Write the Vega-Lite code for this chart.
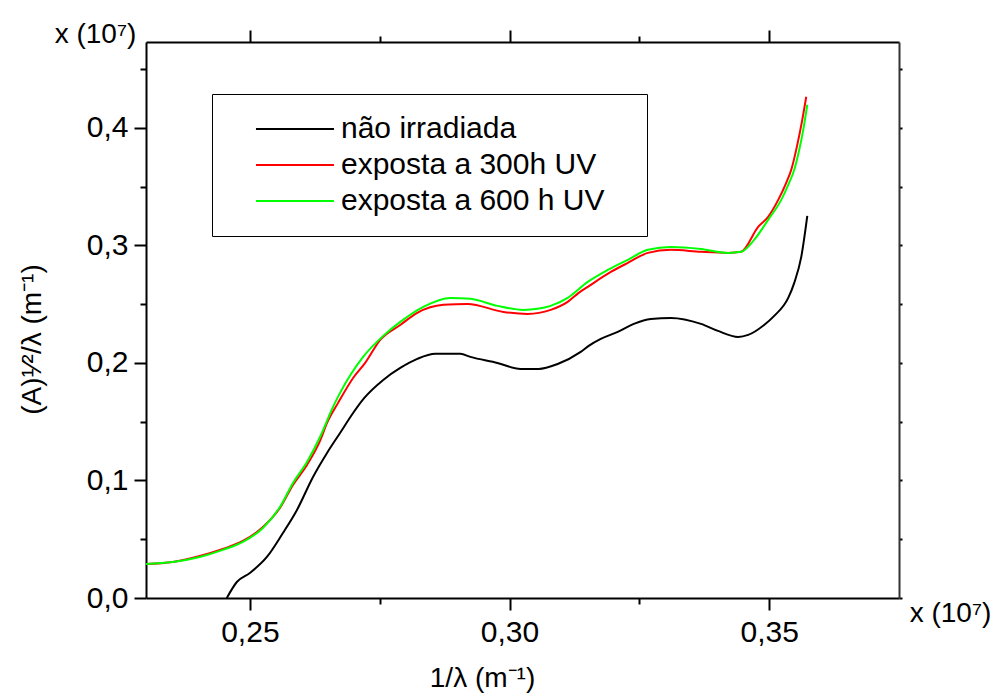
{
  "$schema": "https://vega.github.io/schema/vega-lite/v6.json",
  "autosize": {"type": "none"},
  "padding": {"left": 146, "top": 42, "right": 96, "bottom": 98},
  "width": 753,
  "height": 556,
  "background": "white",
  "data": {"values": [
    {"s": "não irradiada", "x": 0.24556, "y": 0.0},
    {"s": "não irradiada", "x": 0.24749, "y": 0.0136},
    {"s": "não irradiada", "x": 0.25, "y": 0.0213},
    {"s": "não irradiada", "x": 0.25328, "y": 0.0349},
    {"s": "não irradiada", "x": 0.25637, "y": 0.0553},
    {"s": "não irradiada", "x": 0.25907, "y": 0.0749},
    {"s": "não irradiada", "x": 0.26216, "y": 0.103},
    {"s": "não irradiada", "x": 0.26486, "y": 0.1234},
    {"s": "não irradiada", "x": 0.26737, "y": 0.1404},
    {"s": "não irradiada", "x": 0.26988, "y": 0.1574},
    {"s": "não irradiada", "x": 0.27200, "y": 0.1700},
    {"s": "não irradiada", "x": 0.27568, "y": 0.1855},
    {"s": "não irradiada", "x": 0.27896, "y": 0.1957},
    {"s": "não irradiada", "x": 0.28224, "y": 0.2034},
    {"s": "não irradiada", "x": 0.28571, "y": 0.2077},
    {"s": "não irradiada", "x": 0.29054, "y": 0.2077},
    {"s": "não irradiada", "x": 0.29247, "y": 0.2051},
    {"s": "não irradiada", "x": 0.29768, "y": 0.2},
    {"s": "não irradiada", "x": 0.30212, "y": 0.1949},
    {"s": "não irradiada", "x": 0.3056, "y": 0.1949},
    {"s": "não irradiada", "x": 0.30927, "y": 0.1991},
    {"s": "não irradiada", "x": 0.31371, "y": 0.2094},
    {"s": "não irradiada", "x": 0.31525, "y": 0.2145},
    {"s": "não irradiada", "x": 0.31757, "y": 0.2204},
    {"s": "não irradiada", "x": 0.32085, "y": 0.2264},
    {"s": "não irradiada", "x": 0.32394, "y": 0.2332},
    {"s": "não irradiada", "x": 0.32722, "y": 0.2374},
    {"s": "não irradiada", "x": 0.33108, "y": 0.2383},
    {"s": "não irradiada", "x": 0.33687, "y": 0.2332},
    {"s": "não irradiada", "x": 0.34015, "y": 0.2272},
    {"s": "não irradiada", "x": 0.34402, "y": 0.2221},
    {"s": "não irradiada", "x": 0.34595, "y": 0.2238},
    {"s": "não irradiada", "x": 0.34903, "y": 0.2323},
    {"s": "não irradiada", "x": 0.35097, "y": 0.24},
    {"s": "não irradiada", "x": 0.35367, "y": 0.2553},
    {"s": "não irradiada", "x": 0.35483, "y": 0.2681},
    {"s": "não irradiada", "x": 0.35618, "y": 0.2902},
    {"s": "não irradiada", "x": 0.35734, "y": 0.3251},
    {"s": "exposta a 300h UV", "x": 0.23, "y": 0.0289},
    {"s": "exposta a 300h UV", "x": 0.23514, "y": 0.0306},
    {"s": "exposta a 300h UV", "x": 0.24035, "y": 0.0357},
    {"s": "exposta a 300h UV", "x": 0.24479, "y": 0.0417},
    {"s": "exposta a 300h UV", "x": 0.24865, "y": 0.0485},
    {"s": "exposta a 300h UV", "x": 0.25251, "y": 0.0604},
    {"s": "exposta a 300h UV", "x": 0.25579, "y": 0.0766},
    {"s": "exposta a 300h UV", "x": 0.2583, "y": 0.0962},
    {"s": "exposta a 300h UV", "x": 0.261, "y": 0.1132},
    {"s": "exposta a 300h UV", "x": 0.26351, "y": 0.1336},
    {"s": "exposta a 300h UV", "x": 0.26486, "y": 0.1489},
    {"s": "exposta a 300h UV", "x": 0.26699, "y": 0.166},
    {"s": "exposta a 300h UV", "x": 0.26988, "y": 0.1872},
    {"s": "exposta a 300h UV", "x": 0.2722, "y": 0.2},
    {"s": "exposta a 300h UV", "x": 0.2751, "y": 0.2196},
    {"s": "exposta a 300h UV", "x": 0.27896, "y": 0.2323},
    {"s": "exposta a 300h UV", "x": 0.28224, "y": 0.2426},
    {"s": "exposta a 300h UV", "x": 0.28726, "y": 0.2494},
    {"s": "exposta a 300h UV", "x": 0.2919, "y": 0.2502},
    {"s": "exposta a 300h UV", "x": 0.29884, "y": 0.2434},
    {"s": "exposta a 300h UV", "x": 0.30347, "y": 0.2417},
    {"s": "exposta a 300h UV", "x": 0.30792, "y": 0.2451},
    {"s": "exposta a 300h UV", "x": 0.3112, "y": 0.2519},
    {"s": "exposta a 300h UV", "x": 0.31332, "y": 0.2596},
    {"s": "exposta a 300h UV", "x": 0.31506, "y": 0.2647},
    {"s": "exposta a 300h UV", "x": 0.3195, "y": 0.2774},
    {"s": "exposta a 300h UV", "x": 0.32278, "y": 0.2851},
    {"s": "exposta a 300h UV", "x": 0.32664, "y": 0.2936},
    {"s": "exposta a 300h UV", "x": 0.33108, "y": 0.2962},
    {"s": "exposta a 300h UV", "x": 0.33687, "y": 0.2945},
    {"s": "exposta a 300h UV", "x": 0.34208, "y": 0.2936},
    {"s": "exposta a 300h UV", "x": 0.34459, "y": 0.2945},
    {"s": "exposta a 300h UV", "x": 0.34788, "y": 0.3157},
    {"s": "exposta a 300h UV", "x": 0.3498, "y": 0.3243},
    {"s": "exposta a 300h UV", "x": 0.35174, "y": 0.3387},
    {"s": "exposta a 300h UV", "x": 0.35328, "y": 0.3532},
    {"s": "exposta a 300h UV", "x": 0.35425, "y": 0.3643},
    {"s": "exposta a 300h UV", "x": 0.35541, "y": 0.3855},
    {"s": "exposta a 300h UV", "x": 0.35637, "y": 0.4068},
    {"s": "exposta a 300h UV", "x": 0.35714, "y": 0.4264},
    {"s": "exposta a 600 h UV", "x": 0.23, "y": 0.0289},
    {"s": "exposta a 600 h UV", "x": 0.23514, "y": 0.0306},
    {"s": "exposta a 600 h UV", "x": 0.24035, "y": 0.0349},
    {"s": "exposta a 600 h UV", "x": 0.24479, "y": 0.0409},
    {"s": "exposta a 600 h UV", "x": 0.24865, "y": 0.0477},
    {"s": "exposta a 600 h UV", "x": 0.25251, "y": 0.0596},
    {"s": "exposta a 600 h UV", "x": 0.25579, "y": 0.0774},
    {"s": "exposta a 600 h UV", "x": 0.2583, "y": 0.0979},
    {"s": "exposta a 600 h UV", "x": 0.261, "y": 0.1157},
    {"s": "exposta a 600 h UV", "x": 0.26351, "y": 0.137},
    {"s": "exposta a 600 h UV", "x": 0.26602, "y": 0.1626},
    {"s": "exposta a 600 h UV", "x": 0.26737, "y": 0.1745},
    {"s": "exposta a 600 h UV", "x": 0.27181, "y": 0.2051},
    {"s": "exposta a 600 h UV", "x": 0.27568, "y": 0.223},
    {"s": "exposta a 600 h UV", "x": 0.27896, "y": 0.2349},
    {"s": "exposta a 600 h UV", "x": 0.2834, "y": 0.2477},
    {"s": "exposta a 600 h UV", "x": 0.28861, "y": 0.2553},
    {"s": "exposta a 600 h UV", "x": 0.29247, "y": 0.2545},
    {"s": "exposta a 600 h UV", "x": 0.29768, "y": 0.2485},
    {"s": "exposta a 600 h UV", "x": 0.3027, "y": 0.2451},
    {"s": "exposta a 600 h UV", "x": 0.3054, "y": 0.246},
    {"s": "exposta a 600 h UV", "x": 0.30792, "y": 0.2485},
    {"s": "exposta a 600 h UV", "x": 0.3112, "y": 0.2553},
    {"s": "exposta a 600 h UV", "x": 0.31506, "y": 0.2689},
    {"s": "exposta a 600 h UV", "x": 0.31892, "y": 0.2791},
    {"s": "exposta a 600 h UV", "x": 0.32278, "y": 0.2877},
    {"s": "exposta a 600 h UV", "x": 0.32664, "y": 0.2962},
    {"s": "exposta a 600 h UV", "x": 0.33108, "y": 0.2987},
    {"s": "exposta a 600 h UV", "x": 0.33687, "y": 0.297},
    {"s": "exposta a 600 h UV", "x": 0.34208, "y": 0.2936},
    {"s": "exposta a 600 h UV", "x": 0.34459, "y": 0.2945},
    {"s": "exposta a 600 h UV", "x": 0.3471, "y": 0.3047},
    {"s": "exposta a 600 h UV", "x": 0.3498, "y": 0.3217},
    {"s": "exposta a 600 h UV", "x": 0.35232, "y": 0.3387},
    {"s": "exposta a 600 h UV", "x": 0.35367, "y": 0.3515},
    {"s": "exposta a 600 h UV", "x": 0.35483, "y": 0.3643},
    {"s": "exposta a 600 h UV", "x": 0.35579, "y": 0.3813},
    {"s": "exposta a 600 h UV", "x": 0.35656, "y": 0.3983},
    {"s": "exposta a 600 h UV", "x": 0.35734, "y": 0.4196}
  ]},
  "resolve": {"axis": {"x": "independent", "y": "independent"}},
  "layer": [
    {
      "mark": {"type": "line", "strokeWidth": 2, "interpolate": "monotone"},
      "encoding": {
        "x": {"field": "x", "type": "quantitative",
          "scale": {"domain": [0.23, 0.375], "nice": false, "zero": false},
          "axis": {"orient": "bottom", "values": [0.25, 0.3, 0.35], "tickSize": 12, "labelFontSize": 30, "labelPadding": 7,
            "labelExpr": "replace(format(datum.value, '.2f'), '.', ',')",
            "title": "1/λ (m⁻¹)", "titleFontSize": 28, "titleX": 336, "titleY": 80, "titleAlign": "center", "titleBaseline": "middle", "titleAngle": 0}},
        "y": {"field": "y", "type": "quantitative",
          "scale": {"domain": [0, 0.473], "nice": false, "zero": false},
          "axis": {"orient": "left", "values": [0, 0.1, 0.2, 0.3, 0.4], "tickSize": 12, "labelFontSize": 30, "labelPadding": 6,
            "labelExpr": "replace(format(datum.value, '.1f'), '.', ',')",
            "title": "(A)¹⁄²/λ  (m⁻¹)", "titleFontSize": 28, "titleX": -114, "titleY": 297, "titleAngle": -90, "titleAlign": "center", "titleBaseline": "middle"}},
        "color": {"field": "s", "type": "nominal",
          "scale": {"domain": ["não irradiada", "exposta a 300h UV", "exposta a 600 h UV"], "range": ["#000000", "#ff0000", "#00ff00"]},
          "legend": {"orient": "none", "legendX": 66, "legendY": 52, "title": null,
            "symbolType": "M0.69,0H6.69", "symbolSize": 676, "symbolStrokeWidth": 2,
            "labelFontSize": 30, "labelFont": "Liberation Sans", "labelColor": "black", "labelOffset": 79, "labelLimit": 500,
            "labelExpr": "datum.label + '\u2800'",
            "padding": 20, "rowPadding": 6, "strokeColor": "black", "fillColor": "white"}}
      }
    },
    {
      "mark": {"type": "point", "opacity": 0},
      "encoding": {
        "x": {"field": "x", "type": "quantitative",
          "axis": {"orient": "bottom", "values": [0.275, 0.325], "tickSize": 6, "labels": false, "domain": false, "title": null}},
        "y": {"field": "y", "type": "quantitative",
          "axis": {"orient": "left", "values": [0.05, 0.15, 0.25, 0.35, 0.45], "tickSize": 6, "labels": false, "domain": false, "title": null}}
      }
    },
    {
      "mark": {"type": "point", "opacity": 0},
      "encoding": {
        "x": {"field": "x", "type": "quantitative",
          "axis": {"orient": "top", "values": [0.25, 0.3, 0.35], "tickSize": 12, "labels": false,
            "title": "x (10⁷)", "titleFontSize": 28, "titleX": -51, "titleY": 0, "titleAlign": "center", "titleBaseline": "alphabetic", "titleAngle": 0}},
        "y": {"field": "y", "type": "quantitative",
          "axis": {"orient": "right", "values": [0, 0.05, 0.1, 0.15, 0.2, 0.25, 0.3, 0.35, 0.4, 0.45], "tickSize": 3, "labels": false,
            "domainColor": "#333333",
            "title": "x (10⁷)", "titleFontSize": 28, "titleX": 51, "titleY": 579, "titleAlign": "center", "titleBaseline": "alphabetic", "titleAngle": 0}}
      }
    },
    {
      "mark": {"type": "point", "opacity": 0},
      "encoding": {
        "x": {"field": "x", "type": "quantitative",
          "axis": {"orient": "top", "values": [0.275, 0.325], "tickSize": 6, "labels": false, "domain": false, "title": null}},
        "y": {"field": "y", "type": "quantitative", "axis": null}
      }
    }
  ],
  "config": {
    "view": {"stroke": null},
    "axis": {"grid": false, "domainColor": "black", "tickColor": "black", "domainWidth": 2, "tickWidth": 2,
      "labelFont": "Liberation Sans", "titleFont": "Liberation Sans", "labelColor": "black", "titleColor": "black", "titleFontWeight": "normal"}
  }
}
